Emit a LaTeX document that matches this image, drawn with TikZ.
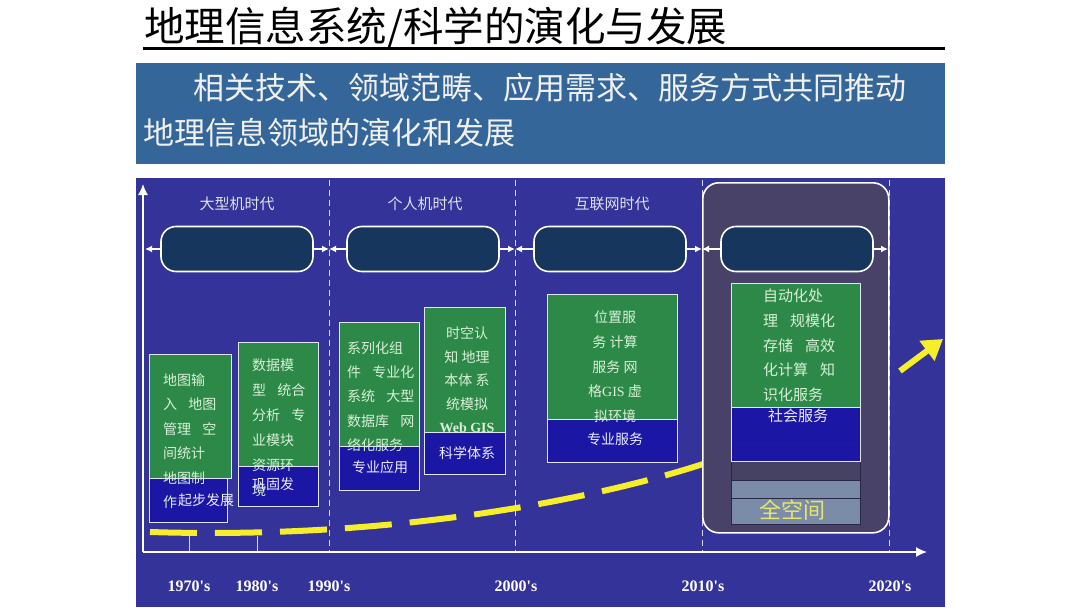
\documentclass[tikz,border=0pt]{standalone}
\usepackage{fontspec}
\setmainfont{Noto Sans CJK SC}
\newfontfamily\tms{Liberation Serif}
\usetikzlibrary{arrows.meta}

\definecolor{panelblue}{RGB}{51,51,153}
\definecolor{bannerblue}{RGB}{53,102,153}
\definecolor{navy}{RGB}{23,54,94}
\definecolor{leaf}{RGB}{45,137,72}
\definecolor{deep}{RGB}{28,22,165}
\definecolor{hilite}{RGB}{72,66,104}
\definecolor{rowdark}{RGB}{70,66,100}
\definecolor{rowgray}{RGB}{122,140,168}
\definecolor{rowline}{RGB}{40,40,70}
\definecolor{paletext}{RGB}{215,240,215}
\definecolor{trendy}{RGB}{245,238,40}
\definecolor{gold}{RGB}{230,230,110}
\definecolor{edgewhite}{RGB}{225,230,245}

\newcommand{\gp}{\hspace{0.8em}}

\begin{document}
\begin{tikzpicture}[x=1pt,y=-1pt,>={Latex[length=7pt,width=7pt]},
	pill/.style={draw=white, line width=1.6pt, fill=navy, rounded corners=15pt, minimum width=152pt, minimum height=45pt, inner sep=0},
	cell/.style={draw=edgewhite, line width=1.2pt, anchor=north west, inner sep=0},
	row/.style={draw=rowline, line width=1pt, anchor=north west, inner sep=0, minimum width=129pt},
	gtext/.style={text=paletext, inner sep=0},
	btext/.style={text=white!92!blue, font=\fontsize{14}{18}\selectfont, inner sep=0},
	year/.style={text=white, font=\tms\bfseries\fontsize{16}{18}\selectfont},
	era/.style={text=white!85!panelblue, font=\fontsize{15}{18}\selectfont},
	link/.style={->, white, line width=1.4pt},
	trend/.style={trendy, line width=6pt}]
	\useasboundingbox (0,0) rectangle (1080,608);
	\fill[white] (0,0) rectangle (1080,608);

	\node (title) [anchor=west, inner sep=0, font=\fontsize{40.5}{42}\selectfont] at (144,28) {地理信息系统/科学的演化与发展};
	\draw[line width=3pt] (143,48) -- (945,48);

	\node (banner) [fill=bannerblue, anchor=north west, minimum width=809pt, minimum height=101pt, inner sep=0] at (136,63) {};
	\node (line1) [anchor=west, inner sep=0, text=white!94!black, font=\fontsize{31}{34}\selectfont] at (193,88) {相关技术、领域范畴、应用需求、服务方式共同推动};
	\node (line2) [anchor=west, inner sep=0, text=white!94!black, font=\fontsize{31}{34}\selectfont] at (143,133) {地理信息领域的演化和发展};

	\fill[panelblue] (136,178) rectangle (945,607);
	\foreach \x in {329,515,702,889}
		\draw[white!80!panelblue, line width=0.8pt, dash pattern=on 6pt off 4pt] (\x,180) -- (\x,552);
	\foreach \x in {189,257}
		\draw[white!80!panelblue, line width=0.8pt] (\x,536) -- (\x,552);

	% trend line
	\coordinate (t0) at (150,532);
	\coordinate (t1) at (700,465);
	\coordinate (t2) at (800,425);
	\draw[trend, dash pattern=on 47pt off 18pt] (t0) .. controls (400,540) and (600,497) .. (t1) .. controls (760,446) and (790,430) .. (t2);

	\node (now) [draw=white, line width=1.6pt, fill=hilite, rounded corners=16pt, anchor=north west, minimum width=186pt, minimum height=350pt, inner sep=0] at (702,182) {};

	\coordinate (o) at (143,552);
	\coordinate (xend) at (927,552);
	\coordinate (yend) at (143,184);
	\draw[white, line width=1.5pt, -{Latex[length=11pt,width=10pt]}] (o) -- (xend);
	\draw[white, line width=1.5pt, -{Latex[length=11pt,width=10pt]}] (o) -- (yend);

	\node (eraA) [era] at (237,204) {大型机时代};
	\node (eraB) [era] at (425,204) {个人机时代};
	\node (eraC) [era] at (612,204) {互联网时代};

	\node (boxA) [pill] at (237,249) {};
	\node (boxB) [pill] at (423,249) {};
	\node (boxC) [pill] at (610,249) {};
	\node (boxD) [pill] at (797,249) {};
	\coordinate (m0) at (145,249);
	\coordinate (m1) at (329,249);
	\coordinate (m2) at (515,249);
	\coordinate (m3) at (702,249);
	\coordinate (m4) at (888,249);
	\foreach \b/\l/\r in {boxA/m0/m1, boxB/m1/m2, boxC/m2/m3, boxD/m3/m4} {
		\draw[link] (\b.west) -- (\l);
		\draw[link] (\b.east) -- (\r);
	}

	% mainframe era
	\node (ga) [cell, fill=leaf, minimum width=82pt, minimum height=124pt] at (149,354) {};
	\node (ba) [cell, fill=deep, minimum width=78pt, minimum height=44pt] at (149,478) {};
	\node (gb) [cell, fill=leaf, minimum width=80pt, minimum height=124pt] at (238,342) {};
	\node (bb) [cell, fill=deep, minimum width=80pt, minimum height=40pt] at (238,466) {};
	\node (ta) [gtext, align=left, anchor=north west, font=\fontsize{14}{24.5}\selectfont] at (163,368) {\strut 地图输\\入\gp 地图\\管理\gp 空\\间统计\\地图制\\作};
	\node (tb) [gtext, align=left, anchor=north west, font=\fontsize{14}{25}\selectfont] at (252,353) {\strut 数据模\\型\gp 统合\\分析\gp 专\\业模块\\资源环\\境};
	\node (tab) [btext, anchor=west] at (178,500) {起步发展};
	\node (tbb) [btext, anchor=west] at (252,484) {巩固发};

	% pc era
	\node (gc) [cell, fill=leaf, minimum width=80pt, minimum height=124pt] at (339,322) {};
	\node (bc) [cell, fill=deep, minimum width=80pt, minimum height=44pt] at (339,446) {};
	\node (gd) [cell, fill=leaf, minimum width=81pt, minimum height=125pt] at (424,307) {};
	\node (bd) [cell, fill=deep, minimum width=81pt, minimum height=42pt] at (424,432) {};
	\node (tc) [gtext, align=left, anchor=north west, font=\fontsize{14}{24.3}\selectfont] at (347,336) {\strut 系列化组\\件\gp 专业化\\系统\gp 大型\\数据库\gp 网\\络化服务};
	\node (td) [gtext, align=center, anchor=north, font=\fontsize{14}{23.5}\selectfont] at (467,322) {\strut 时空认\\知 地理\\本体 系\\统模拟\\{\tms\bfseries Web GIS}};
	\node (tcb) [btext] at (380,467) {专业应用};
	\node (tdb) [btext] at (467,453) {科学体系};

	% internet era
	\node (ge) [cell, fill=leaf, minimum width=130pt, minimum height=125pt] at (547,294) {};
	\node (be) [cell, fill=deep, minimum width=130pt, minimum height=43pt] at (547,419) {};
	\node (te) [gtext, align=center, anchor=north, font=\fontsize{14}{24.75}\selectfont] at (615,305) {\strut 位置服\\务 计算\\服务 网\\格{\tms GIS} 虚\\拟环境};
	\node (teb) [btext] at (615,439) {专业服务};

	% next era
	\node (fc) [row, fill=rowdark, minimum height=19pt] at (731,461) {};
	\node (fd) [row, fill=rowgray, minimum height=18pt] at (731,480) {};
	\node (fe) [row, fill=rowgray, minimum height=26pt] at (731,498) {};
	\node (gf) [cell, fill=leaf, minimum width=129pt, minimum height=124pt] at (731,283) {};
	\node (bf) [cell, fill=deep, minimum width=129pt, minimum height=54pt] at (731,407) {};
	\draw[rowline, line width=1pt] (732,443) -- (859,443);
	\node (tf) [gtext, align=left, anchor=north west, font=\fontsize{15}{24.75}\selectfont] at (763,284) {\strut 自动化处\\理\gp 规模化\\存储\gp 高效\\化计算\gp 知\\识化服务};
	\node (tfb) [btext, font=\fontsize{15}{18}\selectfont] at (798,416) {社会服务};
	\node (tfz) [text=gold, inner sep=0, font=\fontsize{22}{24}\selectfont] at (792,510) {全空间};

	\node (y70) [year] at (189,586) {1970's};
	\node (y80) [year] at (257,586) {1980's};
	\node (y90) [year] at (329,586) {1990's};
	\node (y00) [year] at (516,586) {2000's};
	\node (y10) [year] at (703,586) {2010's};
	\node (y20) [year] at (890,586) {2020's};

	\coordinate (t3) at (900,371);
	\coordinate (t4) at (943,339);
	\draw[trend, -{Triangle[length=20pt,width=24pt]}] (t3) -- (t4);
\end{tikzpicture}
\end{document}
